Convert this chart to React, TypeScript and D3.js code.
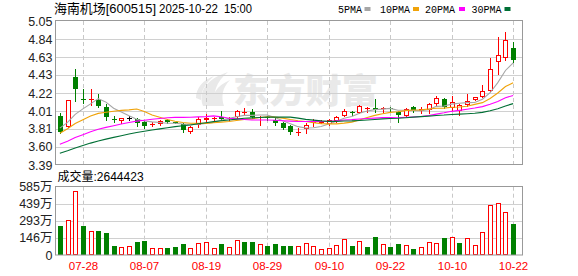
import React from "react";
import * as d3 from "d3";

// ---- data ----
const dates = [
  "07-23","07-24","07-25","07-28","07-29","07-30","07-31","08-01","08-04","08-05",
  "08-06","08-07","08-08","08-11","08-12","08-13","08-14","08-15","08-18","08-19",
  "08-20","08-21","08-22","08-25","08-26","08-27","08-28","08-29","09-01","09-02",
  "09-03","09-04","09-05","09-08","09-09","09-10","09-11","09-12","09-15","09-16",
  "09-17","09-18","09-19","09-22","09-23","09-24","09-25","09-26","09-29","09-30",
  "10-09","10-10","10-13","10-14","10-15","10-16","10-17","10-20","10-21","10-22",
];
const opens = [
  3.955,3.832,4.405,4.15,4.14,4.14,4.062,3.92,3.897,3.928,
  3.917,3.889,3.855,3.866,3.91,3.885,3.859,3.774,3.851,3.91,
  3.925,3.94,3.92,3.943,3.995,4.0,3.935,3.945,3.91,3.87,
  3.84,3.76,3.802,3.87,3.88,3.859,3.9,3.955,4.0,3.993,
  4.035,4.045,4.035,4.045,4.005,3.96,4.055,4.01,4.025,4.095,
  4.147,4.047,4.016,4.085,4.145,4.177,4.247,4.574,4.62,4.739,
];
const highs = [
  3.986,4.145,4.502,4.263,4.263,4.205,4.093,3.95,3.935,3.95,
  3.935,3.9,3.883,3.91,3.92,3.89,3.87,3.835,3.938,3.978,
  3.948,4.013,3.94,4.02,4.047,4.036,3.95,3.96,3.93,3.88,
  3.85,3.82,3.87,3.92,3.905,3.92,3.95,4.03,4.016,4.08,
  4.059,4.147,4.06,4.06,4.015,4.05,4.07,4.06,4.1,4.18,
  4.16,4.185,4.09,4.209,4.175,4.307,4.62,4.866,4.92,4.81,
];
const lows = [
  3.755,3.825,4.128,4.108,4.082,4.062,3.909,3.89,3.871,3.91,
  3.84,3.82,3.843,3.85,3.875,3.87,3.775,3.762,3.832,3.882,
  3.897,3.909,3.91,3.935,3.974,3.935,3.85,3.91,3.85,3.8,
  3.745,3.735,3.756,3.84,3.87,3.85,3.89,3.95,3.966,3.99,
  4.005,4.005,4.0,4.01,3.89,3.955,4.0,3.99,3.986,4.08,
  4.05,4.024,3.966,4.074,4.14,4.17,4.24,4.44,4.6,4.574,
];
const closes = [
  3.774,4.14,4.266,4.145,4.15,4.074,3.94,3.915,3.928,3.928,
  3.871,3.843,3.865,3.897,3.88,3.875,3.794,3.832,3.917,3.93,
  3.935,3.92,3.935,4.013,4.005,3.94,3.94,3.93,3.87,3.82,
  3.765,3.775,3.851,3.885,3.89,3.91,3.94,4.018,3.99,4.07,
  4.045,4.02,4.045,4.035,3.965,4.04,4.01,4.03,4.09,4.16,
  4.059,4.12,4.078,4.128,4.17,4.243,4.497,4.658,4.83,4.606,
];
// volume in 万 (10k shares)
const volumes = [
  248,300,548,248,203,206,186,77,71,77,
  114,122,57,57,63,71,94,57,100,109,
  57,94,66,128,114,114,94,77,94,77,
  77,77,100,77,49,57,83,134,77,120,
  69,154,92,69,94,83,51,69,109,100,
  146,154,103,146,83,197,428,445,368,264.4423,
];
// closes of the 29 sessions before the window (feed the moving averages)
const priorCloses = [
  3.28,3.3,3.31,3.29,3.32,3.33,3.31,3.34,3.35,3.34,
  3.43,3.44,3.48,3.47,3.51,3.5,3.54,3.53,3.56,3.56,
  3.63,3.65,3.71,3.72,3.78,3.81,3.8,3.83,3.86,
];
const priceTicks = [3.39, 3.6, 3.81, 4.01, 4.22, 4.43, 4.63, 4.84, 5.05];
const volTicks = [0, 146, 293, 439, 585];
const dateTicks = ["07-28","08-07","08-19","08-29","09-10","09-22","10-10","10-22"];
const maPeriods = [5, 10, 20, 30];
const maNames = ["5PMA", "10PMA", "20PMA", "30PMA"];
const maColors = ["#a6a6a6", "#f0a30a", "#ff00ff", "#006f35"];
const stockTitle = "海南机场[600515]";
const stockDate = "2025-10-22";
const stockTime = "15:00";

const RED = "#ff0000";
const GREEN = "#008000";
const SANS = "'Liberation Sans', Arial, 'Noto Sans CJK SC', sans-serif";
const MONO = "'Liberation Mono', 'DejaVu Sans Mono', monospace";

export default function App() {
  const W = 578, H = 276;
  const L = 56, R = 522;
  const pTop = 21, pBot = 165;
  const vTop = 186.7, vBot = 255;

  const x = d3.scaleBand<string>().domain(dates).range([56, 517]).padding(0);
  const cx = (d: string) => Math.round((x(d) as number) + x.bandwidth() / 2);
  const y = d3.scaleLinear().domain([3.39, 5.05]).range([pBot, pTop]);
  const yv = d3.scaleLinear().domain([0, 585]).range([vBot, vTop]);

  const all = priorCloses.concat(closes);
  const off = priorCloses.length;
  const maSeries = maPeriods.map((n) =>
    closes.map((_, i) => d3.mean(all.slice(i + off - n + 1, i + off + 1)) as number)
  );
  const lineGen = d3
    .line<number>()
    .x((_, i) => (x(dates[i]) as number) + x.bandwidth() / 2)
    .y((v) => y(v));

  const snap = (v: number) => Math.round(v) + 0.5;

  const candles = dates.map((d, i) => {
    const o = opens[i], c = closes[i];
    const col = c > o ? RED : c < o ? GREEN : "#000";
    const X = cx(d);
    const top = Math.round(y(Math.max(o, c)));
    const bot = Math.round(y(Math.min(o, c)));
    const wick = (
      <line key="w" x1={X + 0.5} x2={X + 0.5} y1={Math.round(y(highs[i]))} y2={Math.round(y(lows[i])) + 1} stroke={col} strokeWidth={1} />
    );
    let body;
    if (c > o && bot - top >= 2) {
      body = <rect key="b" x={X - 2 + 0.5} y={top + 0.5} width={4} height={bot - top - 1} fill="#fff" stroke={col} strokeWidth={1} />;
    } else {
      body = <rect key="b" x={X - 2} y={top} width={5} height={Math.max(1, bot - top)} fill={col} />;
    }
    return <g key={i}>{wick}{body}</g>;
  });

  const volBars = dates.map((d, i) => {
    const prev = i === 0 ? priorCloses[priorCloses.length - 1] : closes[i - 1];
    const up = closes[i] >= prev;
    const X = cx(d);
    const top = Math.round(yv(volumes[i]));
    if (up) {
      return <rect key={i} x={X - 2 + 0.5} y={top + 0.5} width={4} height={vBot - top - 1} fill="#fff" stroke={RED} strokeWidth={1} />;
    }
    return <rect key={i} x={X - 2} y={top} width={5} height={vBot - top} fill={GREEN} />;
  });

  const legendX = [338, 380, 425, 471.5];
  const legendSq = [364.5, 413, 459, 504.5];

  return (
    <div style={{ position: "absolute", left: 0, top: 0 }}>
      <svg width={W} height={H} style={{ display: "block", background: "#fff" }}>
        {/* watermark */}
        <g fill="#e9e9e9">
          <path d="M203,106 C198,92 206,79 228,72 C216,82 212,93 216,106 Z" />
          <path d="M213,106 C211,95 216,86 230,80 C222,88 221,97 224,106 Z" />
          <path d="M196,98 C196,88 203,80 214,76 C205,84 201,91 201,100 Z" />
          <text x={233} y={103} fontSize={34} fontWeight={900} fontFamily="'Noto Sans CJK SC', sans-serif" textLength={145} lengthAdjust="spacingAndGlyphs">东方财富</text>
        </g>

        {/* title */}
        <text x={54} y={13} fontSize={13} fontFamily={SANS} fill="#000" textLength={102} lengthAdjust="spacingAndGlyphs">{stockTitle}</text>
        <text x={159} y={13} fontSize={13} fontFamily={SANS} fill="#000" textLength={59} lengthAdjust="spacingAndGlyphs">{stockDate}</text>
        <text x={224} y={13} fontSize={13} fontFamily={SANS} fill="#000" textLength={28} lengthAdjust="spacingAndGlyphs">{stockTime}</text>

        {/* legend */}
        {maNames.map((n, k) => (
          <g key={n}>
            <text x={legendX[k]} y={12.5} fontSize={10} fontFamily={MONO} fill="#000">{n}</text>
            <rect x={legendSq[k]} y={7} width={6} height={4} fill={maColors[k]} />
          </g>
        ))}

        {/* price grid */}
        {priceTicks.slice(1, -1).map((t) => (
          <line key={t} x1={L} x2={R} y1={snap(y(t))} y2={snap(y(t))} stroke="#d0d0d0" />
        ))}
        {dateTicks.map((d) => (
          <g key={d}>
            <line x1={cx(d) + 0.5} x2={cx(d) + 0.5} y1={pTop} y2={pBot} stroke="#c8c8c8" strokeDasharray="4,3" />
            <line x1={cx(d) + 0.5} x2={cx(d) + 0.5} y1={vTop} y2={vBot} stroke="#c8c8c8" strokeDasharray="4,3" />
          </g>
        ))}
        {/* volume grid */}
        {volTicks.slice(1, -1).map((t) => (
          <line key={t} x1={L} x2={R} y1={snap(yv(t))} y2={snap(yv(t))} stroke="#d0d0d0" />
        ))}

        {/* candles */}
        {candles}

        {/* moving averages */}
        {maSeries.map((s, k) => (
          <path key={k} d={lineGen(s) as string} fill="none" stroke={maColors[k]} strokeWidth={1.1} />
        ))}

        {/* volume */}
        {volBars}

        {/* frames */}
        <rect x={L - 0.5} y={pTop - 0.5} width={R - L + 1} height={pBot - pTop} fill="none" stroke="#999" />
        <rect x={L - 0.5} y={186.5} width={R - L + 1} height={vBot - 186.5} fill="none" stroke="#999" />

        {/* price axis labels */}
        {priceTicks.map((t) => (
          <text key={t} x={52.5} y={y(t)} dy="0.36em" textAnchor="end" fontSize={12.5} fontFamily={SANS} fill="#222">
            {t.toFixed(2)}
          </text>
        ))}

        {/* volume label + axis */}
        <text x={57.5} y={181} fontSize={12} fontFamily={SANS} fill="#000">
          {"成交量:" + Math.round(volumes[volumes.length - 1] * 10000)}
        </text>
        {volTicks.map((t) => (
          <text key={t} x={52.5} y={yv(t)} dy="0.36em" textAnchor="end" fontSize={12.5} fontFamily={SANS} fill="#222">
            {t === 0 ? "0" : t + "万"}
          </text>
        ))}

        {/* date labels */}
        {dateTicks.map((d) => (
          <text key={d} x={cx(d) + 0.5} y={270} textAnchor="middle" fontSize={11.5} fontFamily={SANS} fill={RED}>
            {d}
          </text>
        ))}
      </svg>
    </div>
  );
}
